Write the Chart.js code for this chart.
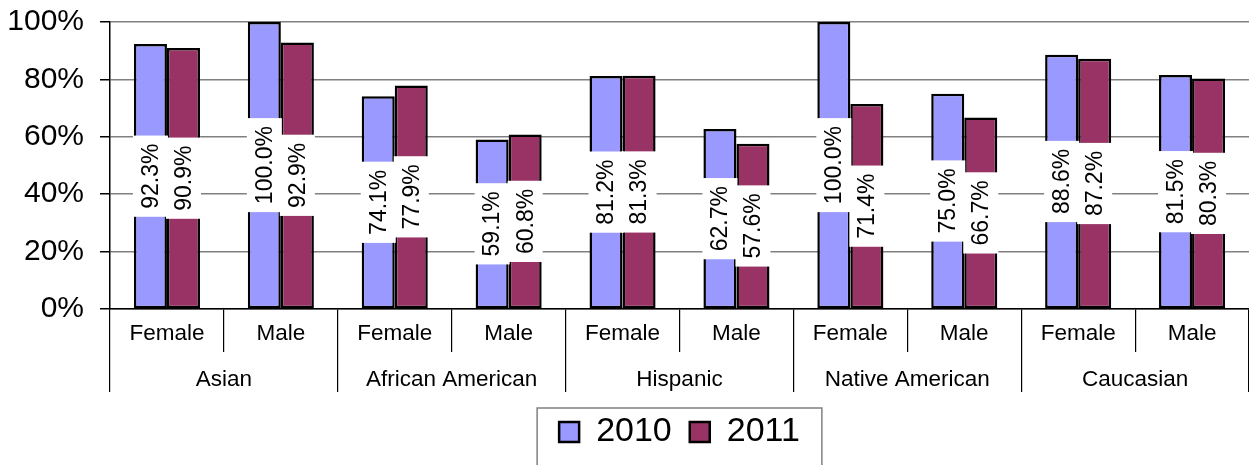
<!DOCTYPE html>
<html>
<head>
<meta charset="utf-8">
<script src="https://cdn.jsdelivr.net/npm/chart.js@4/dist/chart.umd.min.js"></script>
<style>
  html, body { margin: 0; padding: 0; background: #fff; }
  #wrap { width: 1249px; height: 465px; }
</style>
</head>
<body>
<div id="wrap"><canvas id="chart"></canvas></div>
<script>
const groups = ["Asian", "African American", "Hispanic", "Native American", "Caucasian"];
const genders = ["Female", "Male", "Female", "Male", "Female", "Male", "Female", "Male", "Female", "Male"];
const values2010 = [92.3, 100.0, 74.1, 59.1, 81.2, 62.7, 100.0, 75.0, 88.6, 81.5];
const values2011 = [90.9, 92.9, 77.9, 60.8, 81.3, 57.6, 71.4, 66.7, 87.2, 80.3];
const yTicks = [0, 20, 40, 60, 80, 100];

const FONT = "'Liberation Sans', Arial, sans-serif";

// white boxes with rotated value text in the middle of each bar
const barLabels = {
  id: "barLabels",
  afterDatasetsDraw(chart) {
    const ctx = chart.ctx;
    ctx.save();
    ctx.font = "23px " + FONT;
    chart.data.datasets.forEach((ds, i) => {
      chart.getDatasetMeta(i).data.forEach((bar, j) => {
        const txt = ds.data[j].toFixed(1) + "%";
        const w = ctx.measureText(txt).width;
        const cy = (bar.y + bar.base) / 2;
        const h = w + 16;
        ctx.fillStyle = "#fff";
        ctx.fillRect(bar.x - bar.width / 2 - 1, cy - h / 2, bar.width + 2, h);
        ctx.save();
        ctx.translate(bar.x, cy);
        ctx.rotate(-Math.PI / 2);
        ctx.fillStyle = "#000";
        ctx.textAlign = "center";
        ctx.textBaseline = "middle";
        ctx.fillText(txt, 0, 1);
        ctx.restore();
      });
    });
    ctx.restore();
  }
};

// fixed legend height + frame round it
const legendFrame = {
  id: "legendFrame",
  beforeLayout(chart) {
    const lg = chart.legend;
    if (lg && !lg._fixed) {
      const fit = lg.fit.bind(lg);
      lg.fit = function () { fit(); this.height = 68; };
      lg._fixed = true;
    }
  },
  afterDraw(chart) {
    const boxes = chart.legend.legendHitBoxes;
    if (!boxes || !boxes.length) return;
    const l = boxes[0].left - 22;
    const r = boxes[boxes.length - 1].left + boxes[boxes.length - 1].width + 22;
    const ctx = chart.ctx;
    ctx.save();
    ctx.strokeStyle = "#808080";
    ctx.lineWidth = 1.5;
    ctx.strokeRect(l, 408, r - l, 80);
    ctx.restore();
  }
};

new Chart(document.getElementById("chart"), {
  type: "bar",
  data: {
    labels: genders,
    datasets: [
      { label: "2010", data: values2010, backgroundColor: "#9999FF", borderColor: "#000", borderWidth: 2.5, borderSkipped: false },
      { label: "2011", data: values2011, backgroundColor: "#993366", borderColor: "#000", borderWidth: 2.5, borderSkipped: false }
    ]
  },
  options: {
    responsive: true,
    maintainAspectRatio: false,
    animation: false,
    layout: { padding: { top: 22, right: 0, left: 0, bottom: 0 } },
    datasets: { bar: { categoryPercentage: 0.58, barPercentage: 1.0 } },
    plugins: {
      tooltip: { enabled: false },
      legend: {
        position: "bottom",
        fullSize: false,
        labels: {
          font: { family: FONT, size: 34 },
          color: "#000",
          boxWidth: 20,
          boxHeight: 20,
          padding: 18
        }
      }
    },
    scales: {
      y: {
        min: 0,
        max: 100,
        afterFit(s) { s.width = 110; s.paddingTop = 0; s.paddingBottom = 0; },
        afterBuildTicks(s) { s.ticks = yTicks.map(v => ({ value: v })); },
        ticks: {
          font: { family: FONT, size: 30 },
          color: "#000",
          padding: 16,
          callback: v => v + "%"
        },
        grid: { color: "#808080", lineWidth: 1.5, tickColor: "#000", tickLength: 10 },
        border: { color: "#000", width: 1.5 }
      },
      x: {
        afterFit(s) { s.height = 43; s.paddingLeft = 0; s.paddingRight = 0; },
        ticks: {
          font: { family: FONT, size: 22.5 },
          color: "#000",
          padding: -32,
          maxRotation: 0,
          autoSkip: false
        },
        grid: { offset: true, drawOnChartArea: false, tickLength: 43, color: "#000", lineWidth: 1.2 },
        border: { color: "#000", width: 1.5 }
      },
      x2: {
        type: "category",
        position: "bottom",
        labels: groups,
        offset: true,
        afterFit(s) { s.height = 45; s.paddingLeft = 0; s.paddingRight = 0; },
        ticks: {
          font: { family: FONT, size: 22.5 },
          color: "#000",
          padding: -26,
          maxRotation: 0,
          autoSkip: false
        },
        grid: { offset: true, drawOnChartArea: false, tickLength: 40, color: "#000", lineWidth: 1.2 },
        border: { display: false }
      }
    }
  },
  plugins: [barLabels, legendFrame]
});
</script>
</body>
</html>
